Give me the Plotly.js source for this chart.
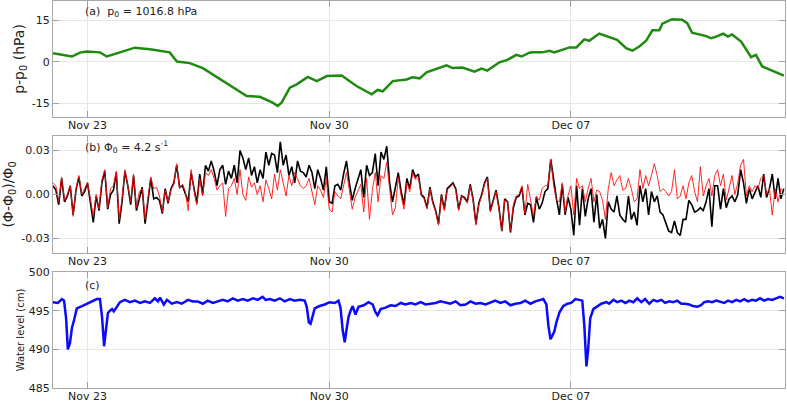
<!DOCTYPE html>
<html><head><meta charset="utf-8">
<script src="https://cdn.plot.ly/plotly-3.0.1.min.js"></script>
<style>html,body{margin:0;padding:0;background:#fff}#chart{width:787px;height:402px}</style>
</head><body><div id="chart"></div>
<script>
// Time origin: days are counted from this date
const startDate = Date.UTC(2015, 10, 22);

// (a) pressure anomaly, hPa
const pressDays = [0.00,0.55,0.78,0.98,1.36,1.56,1.94,2.37,2.81,3.38,3.59,3.96,4.34,4.63,5.12,5.61,5.99,6.28,6.36,6.51,6.62,6.86,7.06,7.38,7.64,7.93,8.36,8.79,9.23,9.40,9.55,9.84,10.24,10.41,10.62,10.82,11.40,11.57,11.86,12.21,12.41,12.58,12.93,13.16,13.42,13.57,13.80,13.89,14.17,14.38,14.52,14.96,15.16,15.39,15.53,15.82,16.03,16.34,16.60,16.78,16.98,17.18,17.36,17.56,17.65,17.93,18.22,18.37,18.51,18.92,19.06,19.21,19.41,19.55,19.67,19.93,20.22,20.36,20.54,20.83,21.17];
const pressVals = [3.1,1.9,3.3,3.7,3.4,1.9,3.4,5.1,4.5,3.4,0.1,-0.5,-2.3,-4.6,-8.8,-12.4,-12.7,-14.2,-14.8,-16.0,-14.8,-9.4,-8.2,-5.5,-7.0,-5.2,-5.0,-8.8,-11.8,-10.2,-10.7,-7.0,-6.4,-5.6,-6.0,-3.8,-1.3,-2.3,-2.1,-3.6,-2.5,-3.2,-0.2,0.7,2.5,1.9,3.3,3.4,3.4,4.0,3.4,5.2,5.2,8.1,7.6,10.2,9.3,7.9,4.9,4.0,5.5,7.6,11.4,11.4,13.8,15.4,15.2,14.0,10.5,9.3,8.5,9.1,10.2,9.1,9.9,7.3,1.7,2.5,-1.7,-3.1,-5.0];

// (b) relative frequency anomaly, in units of 1e-3, sampled every 2 hours
const phiStepHours = 2;
const phiBlack = [6,3,-7,11,-5,-1,6,-14,3,12,
-1,2,8,-5,-19,-1,-11,8,16,-10,
0,3,15,-20,-5,16,6,-7,13,-11,
-3,5,-20,-3,11,-3,-2,-4,-13,4,
-6,4,8,20,5,6,0,-5,15,4,
-6,14,0,20,16,23,16,6,17,20,
7,16,11,20,8,30,25,17,25,13,
19,8,17,11,29,20,28,27,15,36,
20,27,13,19,8,23,16,15,12,20,
15,4,17,11,3,19,-5,-6,6,7,
3,14,23,8,-4,4,11,17,-2,20,
13,15,28,6,29,24,33,8,-5,4,
15,2,-7,11,4,17,12,14,0,-2,
-9,5,-5,-11,-20,0,-10,4,6,8,
4,-10,-1,-2,-5,7,-3,-20,-6,0,
8,12,-11,-3,3,-9,-25,-3,-5,-26,
-9,-2,-1,5,-14,-6,-7,-19,-2,-10,
-6,2,4,24,10,-3,-14,7,-14,-2,
-10,-28,6,-21,4,-15,-3,4,-19,0,
-23,-17,-30,-5,-10,-12,-1,-14,-17,-19,
-1,-17,-12,-21,6,-5,4,-14,2,-5,
-1,-12,-14,-19,-25,-26,-18,-26,-28,-17,
-17,-4,-7,-12,-11,-9,-11,-5,4,-22,
6,6,-10,4,-9,-3,-1,-5,0,17,
8,-6,4,-3,2,6,-2,14,-2,4,
14,-3,11,-3,4];
const phiRed = [8,6,-5,12,-4,0,6,-15,4,13,
0,4,8,-3,-15,0,-10,10,17,-9,
4,6,16,-17,-3,17,7,-5,14,-9,
2,4,-17,-1,12,4,5,-1,-12,3,
-5,3,7,21,4,7,2,-11,17,3,
-7,11,-1,15,13,17,11,3,6,8,
-15,4,6,11,0,17,0,-4,12,5,
8,0,6,-5,10,4,-3,14,3,17,
8,-1,13,6,15,11,6,4,6,11,
2,-7,6,3,-2,11,-10,-12,2,-1,
-3,6,15,3,-10,-2,2,7,-12,11,
-17,3,15,-5,13,11,22,2,-14,-9,
12,-1,-10,8,2,15,10,12,-1,-3,
-10,4,-6,-12,-21,-1,-11,3,5,7,
3,-11,-1,-3,-6,6,-4,-21,-7,-1,
7,11,-12,-4,2,-10,-25,-4,-5,-25,
-7,-1,0,6,-13,7,-5,-15,-1,-4,
4,6,6,24,6,-4,-5,8,-12,-1,
6,-14,11,4,6,-5,4,11,-5,3,
2,-4,-17,4,15,6,10,13,3,4,
11,4,-5,-3,17,4,13,6,13,21,
13,2,4,2,-1,2,17,-3,-1,6,
-3,8,13,2,-5,19,-1,6,11,-1,
13,17,6,14,-4,4,13,0,8,20,
24,-1,6,2,6,4,11,13,0,4,
-14,4,-5,4,2];

// (c) water level, cm
const waterDays = [0.00,0.14,0.26,0.32,0.38,0.43,0.49,0.55,0.61,0.69,0.84,0.93,1.04,1.16,1.27,1.36,1.42,1.48,1.53,1.59,1.65,1.71,1.76,1.82,1.94,2.08,2.23,2.37,2.52,2.66,2.81,2.95,3.04,3.10,3.21,3.30,3.44,3.59,3.73,3.91,4.05,4.19,4.34,4.48,4.63,4.77,4.92,5.06,5.21,5.35,5.50,5.64,5.79,5.93,6.07,6.16,6.28,6.42,6.57,6.71,6.86,7.00,7.14,7.29,7.35,7.41,7.46,7.52,7.58,7.72,7.87,8.01,8.16,8.27,8.33,8.39,8.45,8.50,8.56,8.62,8.68,8.76,8.85,9.00,9.14,9.26,9.34,9.40,9.49,9.63,9.78,9.92,10.07,10.21,10.36,10.50,10.65,10.79,10.93,11.08,11.22,11.37,11.51,11.66,11.80,11.95,12.09,12.24,12.38,12.53,12.67,12.81,12.96,13.10,13.25,13.39,13.54,13.68,13.83,13.97,14.12,14.20,14.29,14.35,14.41,14.46,14.52,14.58,14.67,14.78,14.90,15.01,15.13,15.24,15.33,15.39,15.45,15.50,15.56,15.65,15.74,15.88,16.03,16.11,16.23,16.34,16.46,16.58,16.69,16.81,16.92,17.04,17.15,17.27,17.39,17.50,17.62,17.73,17.85,17.96,18.08,18.20,18.31,18.43,18.54,18.66,18.77,18.86,18.98,19.09,19.21,19.32,19.44,19.55,19.67,19.79,19.90,20.02,20.13,20.25,20.36,20.48,20.60,20.71,20.83,20.94,21.06,21.17];
const waterVals = [496.1,496.0,496.5,496.3,494.0,490.0,490.8,492.8,493.8,495.3,495.6,495.8,496.0,496.2,496.5,496.5,494.2,490.4,492.5,494.7,495.0,495.2,494.9,495.3,496.1,496.4,496.1,496.3,496.0,496.2,496.0,496.6,496.2,496.7,495.8,496.4,495.9,496.1,495.9,496.4,496.2,496.2,495.9,496.3,496.0,496.2,496.4,496.2,496.6,496.3,496.5,496.3,496.6,496.4,496.8,496.4,496.5,496.3,496.6,496.2,496.5,496.3,496.4,496.3,495.5,493.5,493.3,494.3,495.3,495.6,495.8,496.1,496.0,496.3,495.3,492.5,490.9,492.5,494.2,495.0,495.6,494.5,495.5,495.7,496.1,495.8,494.8,494.4,495.2,495.4,495.7,495.6,496.0,495.8,496.0,495.8,496.1,495.8,495.9,496.0,496.2,496.0,495.9,496.2,495.7,495.8,496.2,495.9,496.0,495.8,496.1,496.3,496.0,496.2,495.7,495.9,496.0,496.3,495.9,496.2,496.4,496.5,495.8,493.0,491.3,491.8,492.3,493.5,494.8,495.6,495.9,496.0,496.5,496.4,496.3,493.0,487.8,490.0,494.0,495.2,495.5,495.9,496.1,495.9,496.4,496.1,496.3,496.0,496.3,496.1,496.6,496.1,496.5,495.9,496.4,496.2,496.4,496.0,496.2,496.1,496.3,495.9,495.9,495.8,495.6,495.5,495.7,496.1,496.2,496.1,496.3,496.2,496.0,496.3,496.1,496.4,496.2,496.5,496.2,496.4,496.3,496.6,496.3,496.5,496.4,496.6,496.8,496.6];

// axis labels
const xTickDates = ['2015-11-23', '2015-11-30', '2015-12-07'];
const xTickText = ['Nov 23', 'Nov 30', 'Dec 07'];
const pTicks = [-15, 0, 15], pTickText = ['-15', '0', '15'];
const phiTicks = [-0.03, 0, 0.03], phiTickText = ['-0.03', '0.00', '0.03'];
const wTicks = [485, 490, 495, 500], wTickText = ['485', '490', '495', '500'];

function dayToDate(d) {
  return new Date(startDate + d * 86400000).toISOString().replace('T', ' ').slice(0, 19);
}
const pressX = pressDays.map(dayToDate);
const waterX = waterDays.map(dayToDate);
const phiX = phiBlack.map((_, i) => dayToDate(i * phiStepHours / 24));

const font = {family: 'DejaVu Sans, Verdana, sans-serif', size: 11, color: '#222'};
const frame = {showline: true, linecolor: '#a8a8a8', linewidth: 1, mirror: 'ticks',
  ticks: 'inside', ticklen: 6, tickcolor: '#a0a0a0', showgrid: true, gridcolor: '#e6e6e6',
  zeroline: false, tickfont: font};
const xRange = ['2015-11-22 00:00', '2015-12-13 04:50'];
function xax(anchor) {
  return Object.assign({}, frame, {type: 'date', range: xRange, anchor: anchor,
    tickmode: 'array', tickvals: xTickDates, ticktext: xTickText, ticklabelstandoff: -2});
}

const traces = [
  {x: pressX, y: pressVals, xaxis: 'x', yaxis: 'y', mode: 'lines', line: {color: '#1f8a10', width: 2.5}},
  {x: phiX, y: phiBlack.map(v => v / 1000), xaxis: 'x2', yaxis: 'y2', mode: 'lines', line: {color: '#000000', width: 1.6}},
  {x: phiX, y: phiRed.map(v => v / 1000), xaxis: 'x2', yaxis: 'y2', mode: 'lines', line: {color: '#ff1010', width: 0.9}},
  {x: waterX, y: waterVals, xaxis: 'x3', yaxis: 'y3', mode: 'lines', line: {color: '#0a0aff', width: 2.5}}
];

const layout = {
  width: 787, height: 402, showlegend: false,
  margin: {l: 53, r: 2, t: 1, b: 14},
  paper_bgcolor: '#fff', plot_bgcolor: '#fff', font: font,
  xaxis: xax('y'), xaxis2: xax('y2'), xaxis3: xax('y3'),
  yaxis: Object.assign({}, frame, {domain: [0.7003, 1], range: [-20, 22], tickmode: 'array', tickvals: pTicks, ticktext: pTickText,
    title: {text: 'p-p<sub>0</sub> (hPa)', font: {family: 'DejaVu Sans, sans-serif', size: 14, color: '#222'}, standoff: 3}}),
  yaxis2: Object.assign({}, frame, {domain: [0.3488, 0.6512], range: [-0.04, 0.04], tickmode: 'array', tickvals: phiTicks, ticktext: phiTickText,
    title: {text: '(Φ-Φ<sub>0</sub>)/Φ<sub>0</sub>', font: {family: 'DejaVu Sans, sans-serif', size: 14, color: '#222'}, standoff: 4}}),
  yaxis3: Object.assign({}, frame, {domain: [0, 0.2997], range: [485, 500], tickmode: 'array', tickvals: wTicks, ticktext: wTickText,
    title: {text: 'Water level (cm)', font: {family: 'DejaVu Sans, sans-serif', size: 10, color: '#222'}, standoff: 2}}),
  annotations: [
    {text: '(a)  p<sub>0</sub> = 1016.8 hPa', xref: 'paper', yref: 'paper', x: 0.041, y: 0.9716, xanchor: 'left', yanchor: 'middle', showarrow: false, font: {family: 'DejaVu Sans, sans-serif', size: 11, color: '#222'}},
    {text: '(b) Φ<sub>0</sub> = 4.2 s<sup>-1</sup>', xref: 'paper', yref: 'paper', x: 0.041, y: 0.6227, xanchor: 'left', yanchor: 'middle', showarrow: false, font: {family: 'DejaVu Sans, sans-serif', size: 11, color: '#222'}},
    {text: '(c)', xref: 'paper', yref: 'paper', x: 0.041, y: 0.2636, xanchor: 'left', yanchor: 'middle', showarrow: false, font: {family: 'DejaVu Sans, sans-serif', size: 11, color: '#222'}}
  ]
};

Plotly.newPlot('chart', traces, layout, {staticPlot: true, displayModeBar: false});
</script></body></html>
